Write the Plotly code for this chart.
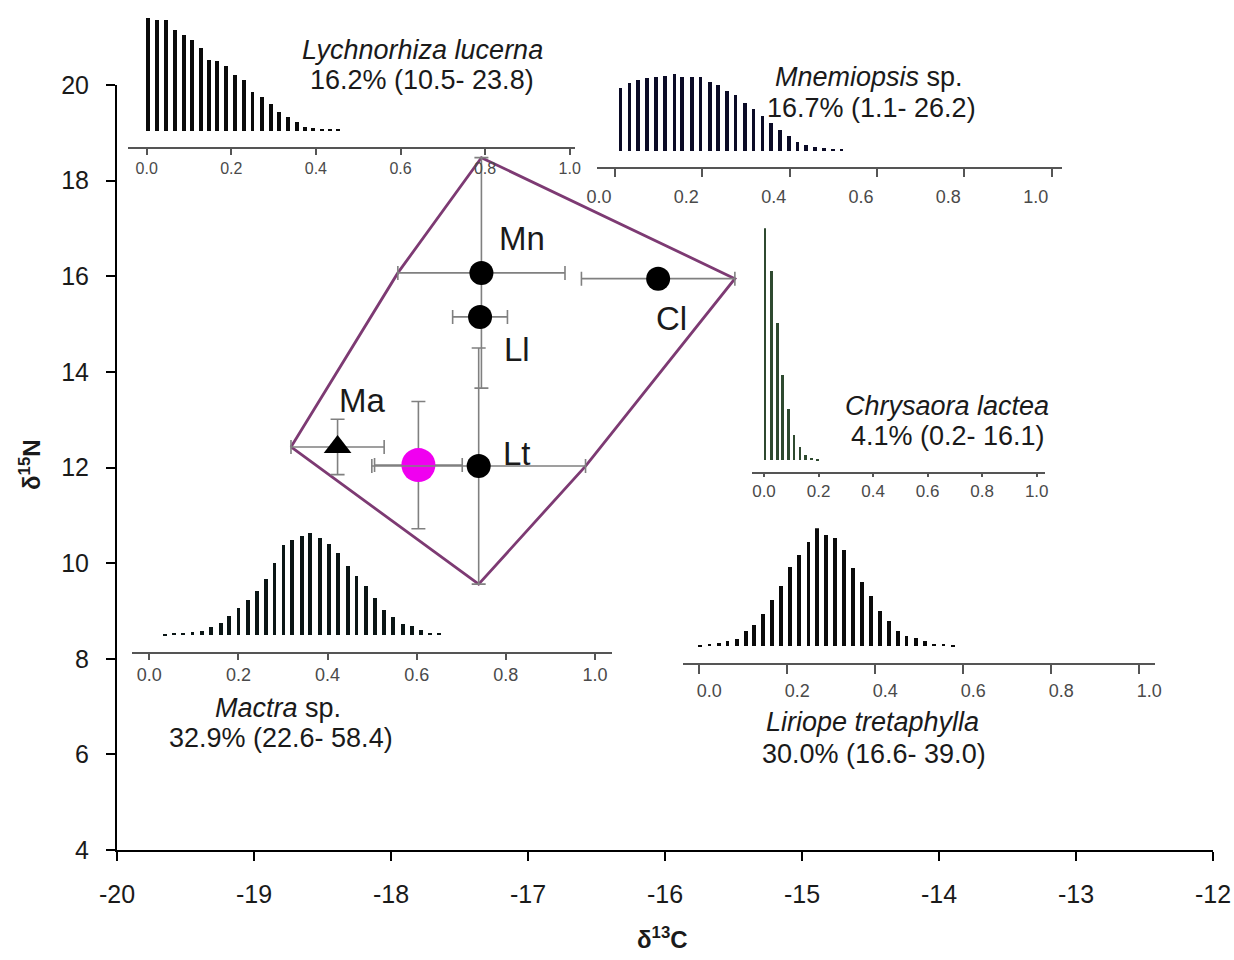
import plotly.graph_objects as go

# ---------------- data ----------------
# main isotope bi-plot (mean ± SD)
prey_labels = ["Ma", "Lt", "Mn", "Ll", "Cl"]
prey_d13C = [-18.39, -17.36, -17.34, -17.35, -16.05]
prey_d15N = [12.43, 12.03, 16.07, 15.15, 15.95]
prey_sd13C = [0.34, 0.78, 0.61, 0.20, 0.56]
prey_sd15N = [0.58, 2.47, 2.41, 0.0, 0.0]
prey_symbol = ["triangle-up", "circle", "circle", "circle", "circle"]

consumer_d13C = [-17.80]
consumer_d15N = [12.05]
consumer_sd13C = [0.32]
consumer_sd15N = [1.33]

x_ticks = [-20, -19, -18, -17, -16, -15, -14, -13, -12]
x_ticktext = ["-20", "-19", "-18", "-17", "-16", "-15", "-14", "-13", "-12"]
y_ticks = [4, 6, 8, 10, 12, 14, 16, 18, 20]
inset_ticks = [0.0, 0.2, 0.4, 0.6, 0.8, 1.0]

# posterior contribution histograms (bin position, relative frequency)
lyc_x = [0.004, 0.025, 0.046, 0.066, 0.088, 0.108, 0.128, 0.147, 0.167, 0.187, 0.209, 0.230,
         0.250, 0.272, 0.293, 0.313, 0.334, 0.355, 0.374, 0.394, 0.414, 0.433, 0.453]
lyc_f = [338, 333, 331, 303, 288, 271, 248, 213, 208, 193, 168, 153,
         118, 103, 81, 58, 43, 28, 13, 8, 6, 6, 5]

mne_x = [0.013, 0.033, 0.052, 0.073, 0.094, 0.115, 0.136, 0.154, 0.176, 0.196, 0.217, 0.236, 0.256,
         0.276, 0.298, 0.317, 0.338, 0.357, 0.378, 0.399, 0.418, 0.438, 0.458, 0.479, 0.499, 0.519]
mne_f = [187, 202, 212, 219, 222, 225, 230, 222, 220, 222, 205, 197, 180,
         167, 142, 124, 104, 82, 62, 44, 27, 17, 10, 7, 6, 6]

chr_x = [0.004, 0.028, 0.049, 0.069, 0.089, 0.110, 0.132, 0.153, 0.175, 0.196]
chr_f = [697, 567, 412, 255, 154, 75, 40, 15, 7, 5]

mac_x = [0.035, 0.055, 0.076, 0.097, 0.118, 0.138, 0.160, 0.179, 0.200, 0.221, 0.241, 0.261, 0.281,
         0.301, 0.321, 0.342, 0.361, 0.383, 0.404, 0.424, 0.445, 0.465, 0.486, 0.506, 0.527, 0.547,
         0.569, 0.589, 0.610, 0.630, 0.650]
mac_f = [5, 6, 7, 9, 13, 25, 37, 57, 83, 105, 133, 170, 217,
         270, 285, 297, 307, 293, 275, 248, 207, 177, 148, 113, 75, 55,
         35, 27, 15, 8, 6]

lir_x = [0.002, 0.023, 0.045, 0.064, 0.085, 0.106, 0.125, 0.145, 0.166, 0.186, 0.206, 0.227, 0.248,
         0.268, 0.288, 0.308, 0.329, 0.349, 0.369, 0.390, 0.411, 0.431, 0.451, 0.471, 0.492, 0.513,
         0.534, 0.555, 0.576]
lir_f = [5, 6, 10, 17, 23, 45, 65, 97, 140, 182, 238, 275, 312,
         355, 335, 325, 288, 235, 192, 150, 105, 75, 45, 32, 25, 15,
         7, 6, 5]

species_names = ["Lychnorhiza lucerna", "Mnemiopsis", "Chrysaora lactea", "Mactra", "Liriope tretaphylla"]
species_stats = ["16.2% (10.5- 23.8)", "16.7% (1.1- 26.2)", "4.1% (0.2- 16.1)",
                 "32.9% (22.6- 58.4)", "30.0% (16.6- 39.0)"]

# ---------------- layout helpers ----------------
W, H = 1234, 960


def fx(px):
    return px / W


def fy(py):
    return 1 - py / H


fig = go.Figure()

# ---------- convex hull of prey mean ± SD extremes ----------
pts = []
for x, y, sx, sy in zip(prey_d13C, prey_d15N, prey_sd13C, prey_sd15N):
    pts += [(x - sx, y), (x + sx, y), (x, y - sy), (x, y + sy)]
pts = sorted(set(pts))


def cross(o, a, b):
    return (a[0] - o[0]) * (b[1] - o[1]) - (a[1] - o[1]) * (b[0] - o[0])


lower, upper = [], []
for p in pts:
    while len(lower) >= 2 and cross(lower[-2], lower[-1], p) <= 0:
        lower.pop()
    lower.append(p)
for p in reversed(pts):
    while len(upper) >= 2 and cross(upper[-2], upper[-1], p) <= 0:
        upper.pop()
    upper.append(p)
hull = lower[:-1] + upper[:-1]
hull.append(hull[0])

fig.add_trace(go.Scatter(
    x=[p[0] for p in hull], y=[p[1] for p in hull], mode="lines",
    line=dict(color="#7d3a73", width=2.8), hoverinfo="skip", showlegend=False))

ERR = dict(color="#808080", thickness=1.6, width=7)

for i in range(len(prey_labels)):
    ex = dict(type="data", array=[prey_sd13C[i]], visible=prey_sd13C[i] > 0, **ERR)
    ey = dict(type="data", array=[prey_sd15N[i]], visible=prey_sd15N[i] > 0, **ERR)
    fig.add_trace(go.Scatter(
        x=[prey_d13C[i]], y=[prey_d15N[i]], mode="markers", name=prey_labels[i],
        marker=dict(symbol=prey_symbol[i], size=24, color="black"),
        error_x=ex, error_y=ey, showlegend=False))
    if i == 0:
        fig.add_trace(go.Scatter(
            x=consumer_d13C, y=consumer_d15N, mode="markers", name="consumer",
            marker=dict(symbol="circle", size=34, color="#f000f0"),
            error_x=dict(type="data", array=consumer_sd13C, **ERR),
            error_y=dict(type="data", array=consumer_sd15N, **ERR),
            showlegend=False))

# main axes
fig.update_layout(
    xaxis=dict(domain=[fx(117), fx(1213)], range=[-20, -12], tickvals=x_ticks, ticktext=x_ticktext,
               showline=True, linecolor="black", linewidth=2, ticks="outside",
               ticklen=9, tickwidth=2, tickcolor="black", showgrid=False, zeroline=False,
               tickfont=dict(family="Liberation Sans, Arial", size=25, color="#1a1a1a"),
               ticklabelstandoff=12, ticklabeloverflow="allow", anchor="y"),
    yaxis=dict(domain=[fy(850), fy(85)], range=[4, 20], tickvals=y_ticks,
               showline=True, linecolor="black", linewidth=2, ticks="outside",
               ticklen=9, tickwidth=2, tickcolor="black", showgrid=False, zeroline=False,
               tickfont=dict(family="Liberation Sans, Arial", size=25, color="#1a1a1a"),
               ticklabelstandoff=12, ticklabeloverflow="allow", anchor="x"),
)

# ---------- inset histograms ----------
insets = [
    dict(x=lyc_x, f=lyc_f, p0=146.7, u=423.0, L=128, R=575, A=147, B=131, T=18,
         barpx=3.8, fs=16, tl=6, so=0, shift=0, color="#0a0a0a"),
    dict(x=mne_x, f=mne_f, p0=615.0, u=436.7, L=597, R=1062, A=167.3, B=150.7, T=74,
         barpx=3.6, fs=18, tl=8, so=4, shift=-16, color="#0b0b26"),
    dict(x=chr_x, f=chr_f, p0=764.0, u=272.7, L=752, R=1045, A=471.7, B=460.7, T=228.3,
         barpx=2.8, fs=17, tl=3, so=0, shift=0, color="#2f4a30"),
    dict(x=mac_x, f=mac_f, p0=149.3, u=445.7, L=132, R=612, A=651.7, B=635, T=532.7,
         barpx=3.8, fs=18, tl=6, so=0, shift=0, color="#0a1515"),
    dict(x=lir_x, f=lir_f, p0=699.3, u=440.0, L=683, R=1155, A=663.3, B=646.7, T=528.3,
         barpx=3.8, fs=18, tl=9, so=1, shift=10, color="#0a0a0a"),
]

for k, ins in enumerate(insets, start=2):
    fmax = max(ins["f"])
    frac = (ins["A"] - ins["B"]) / (ins["A"] - ins["T"])
    y0 = -fmax * frac / (1 - frac)
    r0 = (ins["L"] - ins["p0"]) / ins["u"]
    r1 = (ins["R"] - ins["p0"]) / ins["u"]
    fig.add_trace(go.Bar(
        x=ins["x"], y=ins["f"], width=ins["barpx"] / ins["u"],
        marker=dict(color=ins["color"], line=dict(width=0)),
        xaxis=f"x{k}", yaxis=f"y{k}", showlegend=False, hoverinfo="skip"))
    fig.layout[f"xaxis{k}"] = dict(
        domain=[fx(ins["L"]), fx(ins["R"])], range=[r0, r1], anchor=f"y{k}",
        tickvals=inset_ticks, tickformat=".1f", showline=True, linecolor="#555555",
        linewidth=1.6, ticks="outside", ticklen=ins["tl"], tickwidth=1.5, tickcolor="#555555",
        showgrid=False, zeroline=False, ticklabelstandoff=ins["so"], ticklabelshift=ins["shift"],
        ticklabeloverflow="allow",
        tickfont=dict(family="Liberation Sans, Arial", size=ins["fs"], color="#4a4a4a"))
    fig.layout[f"yaxis{k}"] = dict(
        domain=[fy(ins["A"]), fy(ins["T"])], range=[y0, fmax], anchor=f"x{k}",
        visible=False, showgrid=False, zeroline=False)

# ---------- text ----------
ann = []
TXT = dict(family="Liberation Sans, Arial", size=27, color="#1a1a1a")
name_pos = [(422, 50), (869, 77), (947, 406), (278, 708), (872, 722)]
stat_pos = [(422, 80), (871, 108), (948, 436), (281, 738), (874, 754)]
for i in range(5):
    nm = species_names[i]
    if nm in ("Mnemiopsis", "Mactra"):
        nm = f"<i>{nm}</i> sp."
    else:
        nm = f"<i>{nm}</i>"
    ann.append(dict(x=fx(name_pos[i][0]), y=fy(name_pos[i][1]), xref="paper", yref="paper",
                    text=nm, showarrow=False, font=TXT, xanchor="center", yanchor="middle"))
    ann.append(dict(x=fx(stat_pos[i][0]), y=fy(stat_pos[i][1]), xref="paper", yref="paper",
                    text=species_stats[i], showarrow=False, font=TXT,
                    xanchor="center", yanchor="middle"))

lab_pos = {"Mn": (522, 238), "Ll": (517, 350), "Cl": (671, 318), "Ma": (362, 400), "Lt": (517, 453)}
for lab in prey_labels:
    px, py = lab_pos[lab]
    ann.append(dict(x=fx(px), y=fy(py), xref="paper", yref="paper", text=lab, showarrow=False,
                    font=dict(family="Liberation Sans, Arial", size=33, color="#1a1a1a"),
                    xanchor="center", yanchor="middle"))

ann.append(dict(x=fx(662), y=fy(938), xref="paper", yref="paper",
                text="<b>δ<sup>13</sup>C</b>", showarrow=False,
                font=dict(family="Liberation Sans, Arial", size=24, color="#1a1a1a"),
                xanchor="center", yanchor="middle"))
ann.append(dict(x=fx(30), y=fy(465), xref="paper", yref="paper",
                text="<b>δ<sup>15</sup>N</b>", showarrow=False, textangle=-90,
                font=dict(family="Liberation Sans, Arial", size=24, color="#1a1a1a"),
                xanchor="center", yanchor="middle"))

fig.update_layout(
    width=W, height=H, margin=dict(l=0, r=0, t=0, b=0, autoexpand=False),
    paper_bgcolor="white", plot_bgcolor="rgba(0,0,0,0)", showlegend=False,
    annotations=ann, bargap=0)

fig.write_html("out.html")
